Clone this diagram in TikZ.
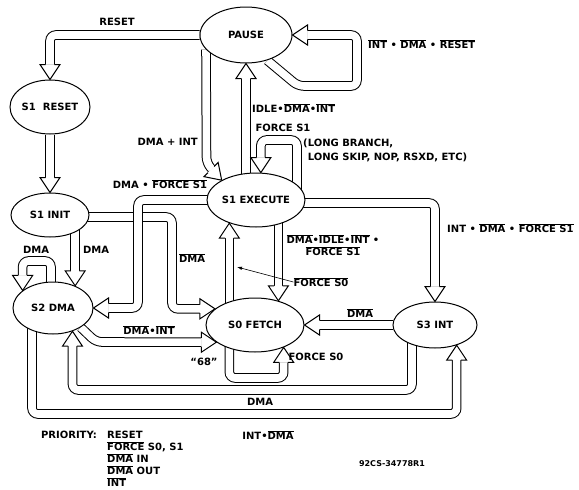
\documentclass[tikz,border=0pt]{standalone}
\usepackage{fontspec}
\setmainfont{DejaVu Sans}
\usetikzlibrary{arrows.meta,shapes.geometric}
\pgfdeclarelayer{bands}
\pgfsetlayers{bands,main}
\newcommand{\ob}[1]{$\overline{\mbox{#1}}$}
\newcommand{\lblfont}{\bfseries\fontsize{10}{12}\selectfont}
\tikzset{
  state/.style={draw, ellipse, line width=1pt, fill=white, inner sep=0pt, font=\lblfont},
  lbl/.style={font=\lblfont, inner sep=0pt},
  band/.style={draw, line width=1pt, double=white, double distance=7.6pt,
    rounded corners=6pt, shorten >=15pt},
  hhead/.pic={\filldraw[fill=white, line width=1pt, line join=miter]
    (-15,4.3) -- (-15,10) -- (0,0) -- (-15,-10) -- (-15,-4.3);}
}
\begin{document}
\begin{tikzpicture}[x=1pt, y=-1pt]
  \useasboundingbox (0,0) rectangle (579,490);

  % States
  \node[state, minimum width=92pt, minimum height=56pt] (pause) at (246,35) {PAUSE};
  \node[state, minimum width=80pt, minimum height=54pt] (s1reset) at (50,107) {S1\ \ RESET};
  \node[state, minimum width=78pt, minimum height=44pt] (s1init) at (50,215) {S1 INIT};
  \node[state, minimum width=80pt, minimum height=52pt] (s2dma) at (53,308) {S2 DMA};
  \node[state, minimum width=98pt, minimum height=54pt] (exec) at (256,200) {S1 EXECUTE};
  \node[state, minimum width=98pt, minimum height=54pt] (fetch) at (255,325) {S0 FETCH};
  \node[state, minimum width=84pt, minimum height=46pt] (s3int) at (435,325) {S3 INT};

  \begin{pgfonlayer}{bands}
    % Reset path
    \draw[band] (pause.west) -| (s1reset.north);
    \pic[rotate=-90] at (s1reset.north) {hhead};
    \draw[band] (s1reset.south) -- (s1init.north);
    \pic[rotate=-90] at (s1init.north) {hhead};

    % PAUSE loop
    \draw[band] (pause.-50) -- (298,86) -- (357,86) -- (357,35) -- (pause.east);
    \pic[rotate=180] at (pause.east) {hhead};

    % PAUSE <-> S1 EXECUTE
    \draw[band] (pause.200) -- (206.5,163) -- (exec.150);
    \pic[rotate=-45] at (exec.150) {hhead};
    \draw[band] (exec.center -| pause.south) -- (pause.south);
    \pic[rotate=90] at (pause.south) {hhead};

    % S1 EXECUTE loop
    \draw[band] (exec.center -| 297,0) |- (exec.80 |- 0,140) -- (exec.80);
    \pic[rotate=-90] at (exec.80) {hhead};

    % S1 EXECUTE -> S3 INT
    \draw[band] ([yshift=-3pt]exec.center) -| (s3int.north);
    \pic[rotate=-90] at (s3int.north) {hhead};

    % S1 EXECUTE <-> S0 FETCH
    \draw[band] (fetch.46 |- exec.center) -- (fetch.46);
    \pic[rotate=-90] at (fetch.46) {hhead};
    \draw[band] (exec.-139 |- fetch.center) -- (exec.-139);
    \pic[rotate=90] at (exec.-139) {hhead};

    % S3 INT -> S0 FETCH
    \draw[band] (s3int.west) -- (fetch.east);
    \pic[rotate=180] at (fetch.east) {hhead};

    % S0 FETCH loop
    \draw[band] (fetch.center -| exec.-139) |- (fetch.-38 |- 0,378) -- (fetch.-38);
    \pic[rotate=90] at (fetch.-38) {hhead};

    % S1 INIT -> S2 DMA, S2 DMA loop
    \draw[band] (s2dma.45 |- s1init.center) -- (s2dma.45);
    \pic[rotate=-90] at (s2dma.45) {hhead};
    \draw[band] (s2dma.center -| 51,0) |- (s2dma.150 |- 0,261) -- (s2dma.150);
    \pic[rotate=-90] at (s2dma.150) {hhead};

    % into S0 FETCH from the left
    \draw[band] (s1init.center |- 0,217) -| (fetch.158 -| 172,0) -- (fetch.158);
    \pic at (fetch.158) {hhead};
    \draw[band] (s2dma.-35) -- (96,342) -- (fetch.-156);
    \pic at (fetch.-156) {hhead};

    % S1 EXECUTE -> S2 DMA
    \draw[band] (exec.center) -| (s2dma.east -| 138,0) -- (s2dma.east);
    \pic[rotate=180] at (s2dma.east) {hhead};

    % S3 INT <-> S2 DMA along the bottom
    \draw[band] (s3int.center -| 412,0) |- (s2dma.-50 |- 0,390) -- (s2dma.-50);
    \pic[rotate=90] at (s2dma.-50) {hhead};
    \draw[band] (s2dma.center -| 32,0) |- (s3int.-43 |- 0,414) -- (s3int.-43);
    \pic[rotate=90] at (s3int.-43) {hhead};
  \end{pgfonlayer}

  % Conditions
  \node[lbl] (lreset) at (117,22) {RESET};
  \node[lbl, anchor=west] (lpauseloop) at (368,44) {\ob{INT} • \ob{DMA} • \ob{RESET}};
  \node[lbl, anchor=west] (lidle) at (252,108) {IDLE•\ob{DMA}•\ob{INT}};
  \node[lbl, anchor=east] (ldmaint) at (198,142) {DMA + INT};
  \node[lbl] (lforces1) at (283,128) {FORCE S1};
  \node[lbl, anchor=west, align=left] (llong) at (303,150)
    {(LONG BRANCH,\\[2pt]\phantom{(}LONG SKIP, NOP, RSXD, ETC)};
  \node[lbl] (ldmafs1) at (160,184) {DMA • \ob{FORCE S1}};
  \node[lbl, anchor=west] (lints3) at (447,228) {INT • \ob{DMA} • \ob{FORCE S1}};
  \node[lbl, align=center] (lexecfetch) at (333,245)
    {\ob{DMA}•\ob{IDLE}•\ob{INT} •\\\ob{FORCE S1}};
  \node[lbl] (lfs0) at (321,282) {\ob{FORCE S0}};
  \coordinate (fs0tip) at (237,267);
  \draw[-{Latex[length=5pt,width=3.5pt]}, line width=0.6pt] (lfs0.west) -- (fs0tip);
  \node[lbl] (ls3fetch) at (360,313) {\ob{DMA}};
  \node[lbl] (linitdma) at (96,250) {DMA};
  \node[lbl] (ldmaloop) at (36,250) {DMA};
  \node[lbl] (linitfetch) at (192,258) {\ob{DMA}};
  \node[lbl] (ldmafetch) at (149,330) {\ob{DMA}•\ob{INT}};
  \node[lbl] (l68) at (204,362) {“68”};
  \node[lbl] (lfetchloop) at (316,357) {FORCE S0};
  \node[lbl] (ls3dma) at (260,402) {DMA};
  \node[lbl] (ldmas3) at (268,435) {INT•\ob{DMA}};

  % Priority list
  \node[lbl] (lprio) at (69,435) {PRIORITY:};
  \node[lbl, anchor=north west, align=left] (lpriolist) at (107,431)
    {RESET\\\ob{FORCE} S0, S1\\\ob{DMA} IN\\\ob{DMA} OUT\\\ob{INT}};
  \node[font=\bfseries\fontsize{8}{10}\selectfont] (lcode) at (392,464) {92CS-34778R1};
\end{tikzpicture}
\end{document}
